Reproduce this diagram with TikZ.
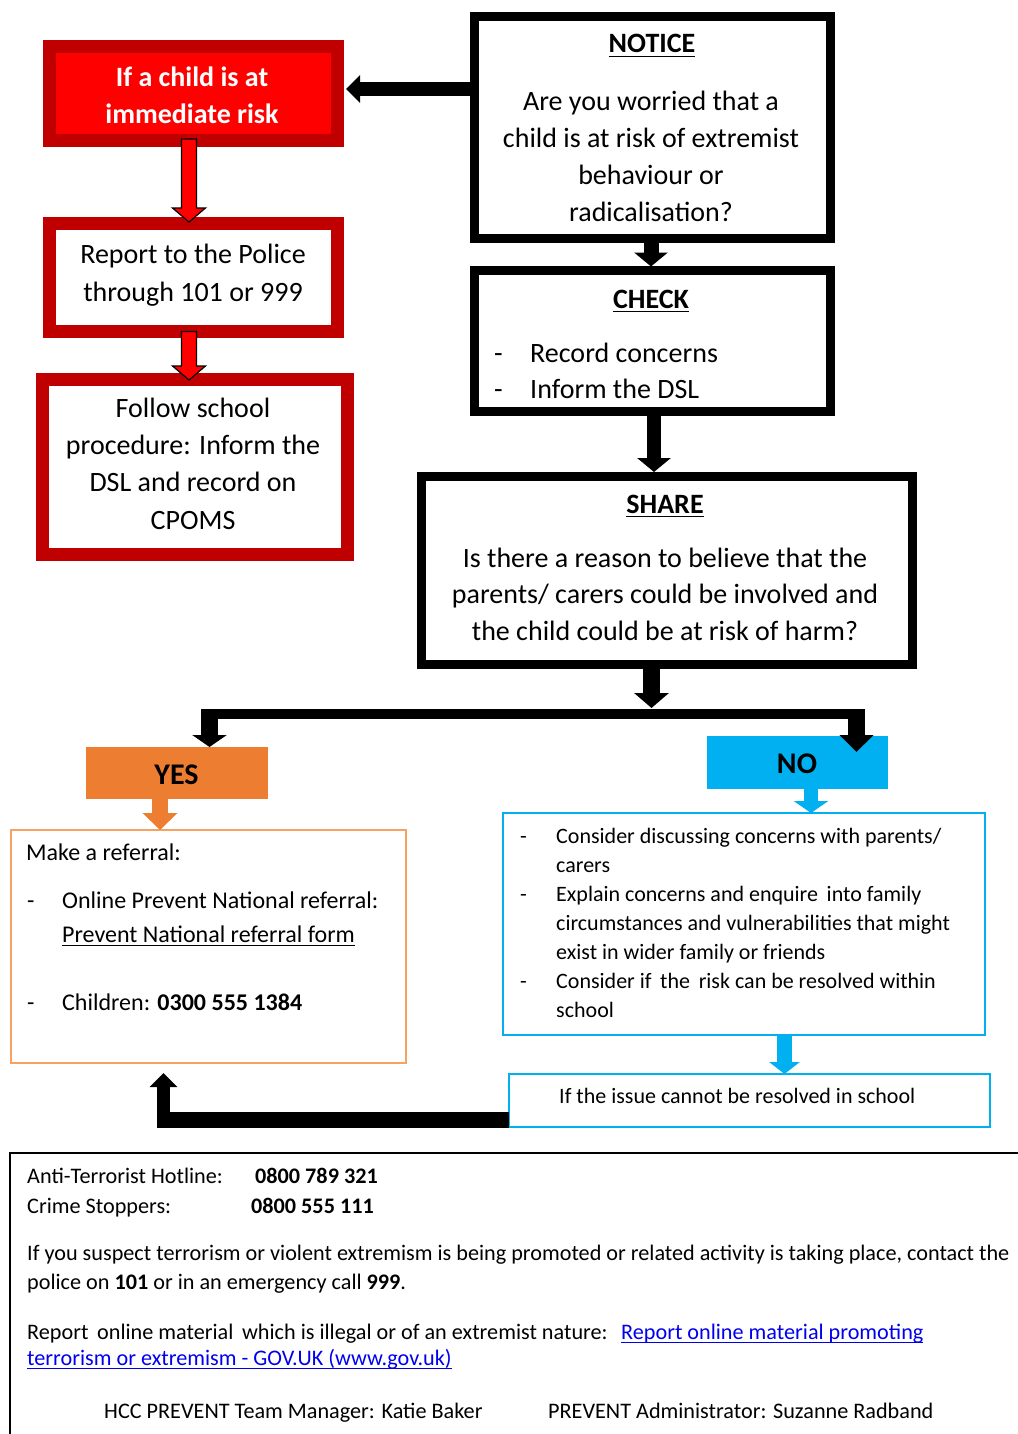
\documentclass[tikz,border=0pt]{standalone}
\usepackage{fontspec}
\setmainfont{Carlito}
\usetikzlibrary{arrows.meta,calc}
\definecolor{dred}{HTML}{C00000}
\definecolor{bred}{HTML}{FF0000}
\definecolor{orng}{HTML}{ED7D31}
\definecolor{lorng}{HTML}{F5A263}
\definecolor{cyn}{HTML}{00B0F0}
\definecolor{lnk}{HTML}{0000EE}
\newsavebox\myulbox
\newcommand\myul[1]{\leavevmode\sbox\myulbox{#1}\rlap{\rule[-4.2pt]{\wd\myulbox}{1.6pt}}\usebox\myulbox}
\newcommand\redblockarrow[2]{%
 \draw[draw=black, fill=bred, line width=1.2pt, line join=miter] let \p1=(#1), \p2=(#2) in
 (\x1-7.5pt,\y1) -- (\x1-7.5pt,\y2+14pt) -- (\x1-16.5pt,\y2+14pt) -- (\x1,\y2) -- (\x1+16.5pt,\y2+14pt) -- (\x1+7.5pt,\y2+14pt) -- (\x1+7.5pt,\y1) -- cycle;}
\tikzset{
 redframe/.style={draw=dred, line width=13pt, inner sep=0pt, outer sep=0pt},
 blkframe/.style={draw=black, line width=9pt, inner sep=0pt, outer sep=0pt},
 plainbox/.style={inner sep=0pt, outer sep=0pt},
 tbig/.style={font={\fontsize{28pt}{37pt}\selectfont}, inner sep=0pt, anchor=base, align=center},
 tbigb/.style={font={\fontsize{28pt}{37pt}\selectfont\bfseries}, inner sep=0pt, anchor=base, align=center},
 tmid/.style={font={\fontsize{24pt}{34pt}\selectfont}, inner sep=0pt, anchor=base west, align=left},
 tsml/.style={font={\fontsize{22pt}{29pt}\selectfont}, inner sep=0pt, anchor=base west, align=left},
 tbot/.style={font={\fontsize{22.2pt}{29pt}\selectfont}, inner sep=0pt, anchor=base west, align=left},
 blkarrow/.style={draw=black},
}
\begin{document}
\begin{tikzpicture}[x=1pt,y=-1pt]
\path[use as bounding box] (0,0) rectangle (1017,1434);

% ---- left red column
\node[redframe, fill=bred, minimum width=288pt, minimum height=94pt] (redA) at (193.5,93.5) {};
\node[redframe, minimum width=288pt, minimum height=108pt] (redB) at (193.5,277.5) {};
\node[redframe, minimum width=305pt, minimum height=175pt] (redC) at (194.5,466.5) {};
\node[tbigb, text=white] (redAt) at (192,124) {If a child is at\\immediate risk};
\node[tbig, font={\fontsize{28pt}{38pt}\selectfont}] (redBt) at (193,301) {Report to the Police\\through 101 or 999};
\node[tbig, font={\fontsize{28pt}{37.3pt}\selectfont}] (redCt) at (193,529) {Follow school\\procedure: Inform the\\DSL and record on\\CPOMS};
\redblockarrow{$(redA.south)+(-4.5,-1.5)$}{$(redB.north)+(-4.5,-1.5)$}
\redblockarrow{$(redB.south)+(-4.5,0)$}{$(redC.north)+(-5.5,1)$}

% ---- notice / check / share
\node[blkframe, minimum width=356pt, minimum height=222pt] (notice) at (652.5,127.5) {};
\node[tbigb] (noticeH) at (652,53) {\myul{NOTICE}};
\node[tbig] (noticeT) at (651,222) {Are you worried that a\\child is at risk of extremist\\behaviour or\\radicalisation?};

\node[blkframe, minimum width=356pt, minimum height=141pt] (check) at (652.5,341) {};
\node[tbigb] (checkH) at (651,308) {\myul{CHECK}};
\node[tbig, anchor=base west] (chd1) at (494,362) {-};
\node[tbig, anchor=base west] (cht1) at (530,362) {Record concerns};
\node[tbig, anchor=base west] (chd2) at (494,398) {-};
\node[tbig, anchor=base west] (cht2) at (530,398) {Inform the DSL};

\node[blkframe, minimum width=491pt, minimum height=188pt] (share) at (667,570.5) {};
\node[tbigb] (shareH) at (665,513) {\myul{SHARE}};
\node[tbig, font={\fontsize{28pt}{36.5pt}\selectfont}] (shareT) at (665,640) {Is there a reason to believe that the\\parents/ carers could be involved and\\the child could be at risk of harm?};

% black arrows top
\draw[blkarrow, line width=14pt, -{Triangle[width=27pt,length=14pt]}] ($(notice.west)+(0,-38.5)$) -- ($(redA.east)+(8.5,-4.5)$);
\draw[blkarrow, line width=15pt, -{Triangle[width=33pt,length=14pt]}] ($(notice.south)+(-1.5,0)$) -- ($(check.north)+(-1.5,-4)$);
\draw[blkarrow, line width=14pt, -{Triangle[width=33pt,length=14pt]}] ($(check.south)+(1.5,0)$) -- ($(check.south |- share.north)+(1.5,-4.5)$);

% ---- yes / no
\node[plainbox, fill=orng, minimum width=182pt, minimum height=52pt] (yes) at (177,773) {};
\node[tbigb, font={\fontsize{30pt}{36pt}\selectfont\bfseries}] (yest) at (176.5,784) {YES};
\node[plainbox, fill=cyn, minimum width=181pt, minimum height=53pt] (no) at (797.5,762.5) {};
\node[tbigb, font={\fontsize{30pt}{36pt}\selectfont\bfseries}] (not) at (797,773) {NO};

\coordinate (split) at ($(share.south)+(-15.5,43.5)$);
\coordinate (jl) at (209.5,713.5);
\coordinate (jr) at (856.5,713.5);
\draw[blkarrow, line width=17pt, -{Triangle[width=34pt,length=15pt]}] ($(share.south)+(-15.5,0)$) -- (split);
\draw[blkarrow, line width=10pt] ($(jl)+(-8.5,0)$) -- ($(jr)+(8.5,0)$);
\draw[blkarrow, line width=17pt, -{Triangle[width=34pt,length=12pt]}] ($(jl)+(0,-4.5)$) -- (jl |- yes.north);
\draw[blkarrow, line width=17pt, -{Triangle[width=33pt,length=17pt]}] ($(jr)+(0,-4.5)$) -- ($(jr |- no.north)+(0,16)$);

% ---- referral box
\node[plainbox, draw=lorng, line width=1.5pt, minimum width=395pt, minimum height=233pt] (ref) at (208.5,946.5) {};
\draw[orng, line width=16pt, -{Triangle[width=34pt,length=17pt]}] ($(yes.south)+(-17,0)$) -- ($(yes.south |- ref.north)+(-17,0)$);
\node[tmid] (ref1) at (26,860) {Make a referral:};
\node[tmid] (refd1) at (27,908) {-};
\node[tmid] (ref2) at (62,908) {Online Prevent National referral:};
\node[tmid] (ref3) at (62,942) {\myul{Prevent National referral form}};
\node[tmid] (refd2) at (27,1010) {-};
\node[tmid] (ref4) at (62,1010) {Children: \textbf{0300 555 1384}};

% ---- no content box
\node[plainbox, draw=cyn, line width=2.5pt, minimum width=482pt, minimum height=222pt] (nobox) at (744,924) {};
\draw[cyn, line width=14pt, -{Triangle[width=34pt,length=12pt]}] ($(no.south)+(13.5,0)$) -- ($(no.south |- nobox.north)+(13.5,0)$);
\node[tsml] (nod1) at (520,843) {-};
\node[tsml] (not1) at (556,872) {Consider discussing concerns with parents/\\carers};
\node[tsml] (nod2) at (520,901) {-};
\node[tsml] (not2) at (556,959) {Explain concerns and enquire\, into family\\circumstances and vulnerabilities that might\\exist in wider family or friends};
\node[tsml] (nod3) at (520,988) {-};
\node[tsml] (not3) at (556,1017) {Consider if\, the\, risk can be resolved within\\school};

\node[plainbox, draw=cyn, line width=2.5pt, minimum width=481pt, minimum height=53pt] (issue) at (749.5,1100.5) {};
\draw[cyn, line width=15pt, -{Triangle[width=30pt,length=12pt]}] ($(nobox.south)+(40.5,0)$) -- ($(nobox.south |- issue.north)+(40.5,0)$);
\node[tsml] (issuet) at (559,1103) {If the issue cannot be resolved in school};

\coordinate (ret) at (163.5,1120);
\draw[blkarrow, line width=16pt] ($(issue.west)+(0,19.5)$) -- ($(ret)+(-6.5,0)$);
\draw[blkarrow, line width=13pt, -{Triangle[width=27pt,length=14pt]}] ($(ret)+(0,8)$) -- ($(ret |- ref.south)+(0,10)$);

% ---- bottom panel
\node[plainbox, draw=black, line width=2pt, minimum width=1040pt, minimum height=320pt, anchor=north west] (panel) at (10,1153) {};
\node[tbot] (b1) at (27,1183) {Anti-Terrorist Hotline:};
\node[tbot] (b1n) at (255,1183) {\textbf{0800 789 321}};
\node[tbot] (b2) at (27,1213) {Crime Stoppers:};
\node[tbot] (b2n) at (251,1213) {\textbf{0800 555 111}};
\node[tbot] (b3) at (27,1260) {If you suspect terrorism or violent extremism is being promoted or related activity is taking place, contact the};
\node[tbot] (b4) at (27,1289) {police on \textbf{101} or in an emergency call \textbf{999}.};
\node[tbot] (b5) at (27,1339) {Report\, online material\, which is illegal or of an extremist nature:};
\node[tbot, text=lnk] (b5l) at (621,1339) {\myul{Report online material promoting}};
\node[tbot, text=lnk] (b6) at (27,1365) {\myul{terrorism or extremism - GOV.UK (www.gov.uk)}};
\node[tbot] (b7) at (104,1418) {HCC PREVENT Team Manager: Katie Baker};
\node[tbot] (b8) at (548,1418) {PREVENT Administrator: Suzanne Radband};
\end{tikzpicture}
\end{document}
